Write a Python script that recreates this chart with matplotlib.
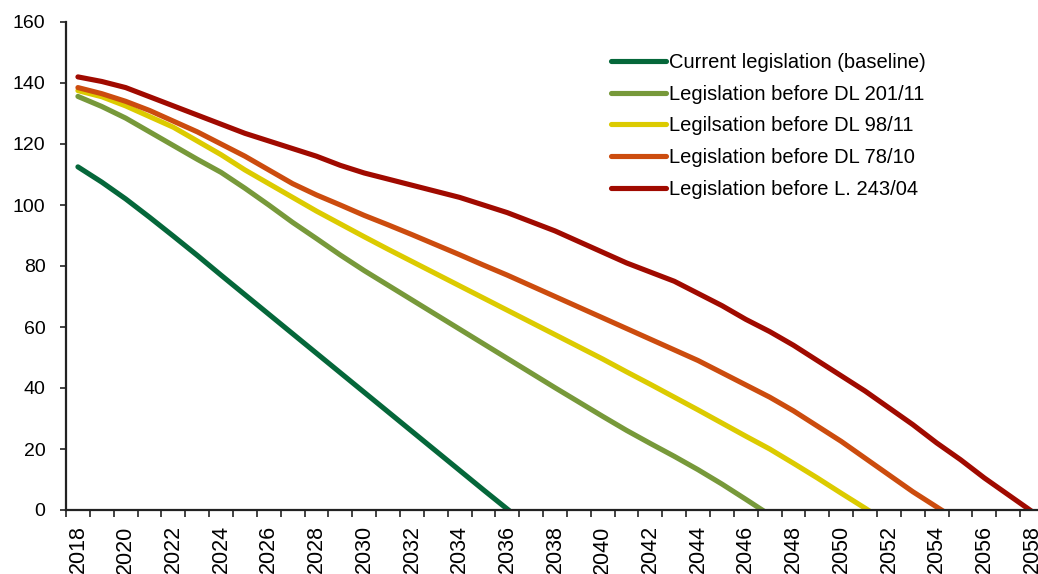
import matplotlib
matplotlib.use("Agg")
import matplotlib.pyplot as plt
import numpy as np

plt.rcParams['font.family'] = ['Liberation Sans', 'DejaVu Sans']

years = list(range(2018, 2059))

# values; last point of each series dips below 0 and is clipped by the axis
current = [112.5, 107.5, 102, 96, 89.8, 83.5, 77, 70.6, 64.2, 57.8, 51.4, 45, 38.6, 32.2,
           25.8, 19.4, 13, 6.6, 0.3, -6]
before_201_11 = [135.6, 132.3, 128.5, 124, 119.5, 115, 110.7, 105.5, 100, 94.3, 89, 83.6,
                 78.5, 73.7, 68.9, 64.1, 59.3, 54.5, 49.7, 44.9, 40.1, 35.4, 30.7, 26.1,
                 21.8, 17.6, 13.2, 8.5, 3.5, -1.6]
before_98_11 = [137.5, 135.5, 132.5, 129, 125.5, 121, 116.5, 111.5, 107, 102.5, 98, 93.8,
                89.6, 85.5, 81.5, 77.5, 73.5, 69.5, 65.5, 61.5, 57.5, 53.5, 49.5, 45.3,
                41.2, 37, 32.8, 28.5, 24.2, 20, 15.3, 10.5, 5.5, 0.6, -4.5]
before_78_10 = [138.5, 136.5, 134, 131, 127.5, 124, 120, 116, 111.5, 107, 103.3, 100,
                96.6, 93.5, 90.3, 87, 83.7, 80.3, 77, 73.5, 70, 66.5, 63, 59.5, 56, 52.5,
                49, 45, 41, 37, 32.5, 27.5, 22.5, 17, 11.5, 6, 1, -4]
before_243_04 = [142, 140.5, 138.5, 135.5, 132.5, 129.5, 126.5, 123.5, 121, 118.5, 116,
                 113, 110.5, 108.5, 106.5, 104.5, 102.5, 100, 97.5, 94.5, 91.5, 88, 84.5,
                 81, 78, 75, 71, 67, 62.5, 58.5, 54, 49, 44, 39, 33.5, 28, 22, 16.5,
                 10.5, 5, -0.5]

series = [
    ("Current legislation (baseline)", current, "#05673a"),
    ("Legislation before DL 201/11", before_201_11, "#77993a"),
    ("Legilsation before DL 98/11", before_98_11, "#dccb00"),
    ("Legislation before DL 78/10", before_78_10, "#cc4c0e"),
    ("Legislation before L. 243/04", before_243_04, "#a00a00"),
]

fig = plt.figure(figsize=(10.38, 5.74), dpi=100)
# axis runs slightly past the right edge of the picture, as in the original
ax = fig.add_axes([66 / 1038, 64 / 574, 978 / 1038, 488 / 574])

for label, vals, color in series:
    ax.plot(years[:len(vals)], vals, color=color, lw=3.7, label=label,
            solid_capstyle='round', solid_joinstyle='round')

ax.set_xlim(2017.5, 2058.5)
ax.set_ylim(0, 160)

ax.set_yticks(np.arange(0, 161, 20))
ax.tick_params(axis='y', direction='out', length=4.3, width=1.2, color='#222222',
               labelsize=14, pad=10.5)

# tick marks between categories, labels on every other category
ax.set_xticks(np.arange(2017.5, 2059, 1))
ax.set_xticklabels([])
ax.tick_params(axis='x', which='major', direction='out', length=5, width=1.2, color='#222222')
ax.set_xticks(years[::2], [str(y) for y in years[::2]], minor=True)
ax.tick_params(axis='x', which='minor', length=0, labelsize=15.5, pad=11, labelrotation=90)

for side in ('top', 'right'):
    ax.spines[side].set_visible(False)
for side in ('left', 'bottom'):
    ax.spines[side].set_linewidth(1.6)
    ax.spines[side].set_color('#222222')

ax.legend(loc='upper left', bbox_to_anchor=(601 / 1038, 1 - 43 / 574),
          bbox_transform=fig.transFigure, frameon=False, fontsize=14.5,
          handlelength=2.75, handletextpad=0.15, labelspacing=0.63, borderpad=0)

fig.savefig("out.png", dpi=100)
